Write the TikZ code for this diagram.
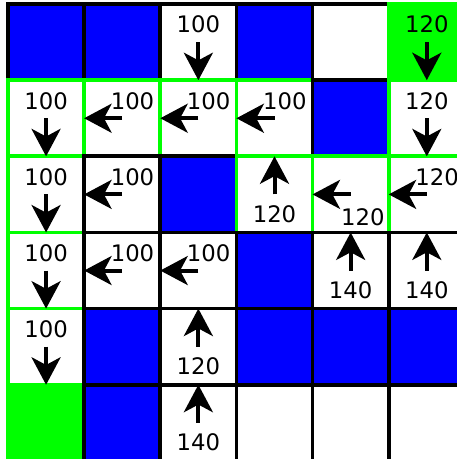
\documentclass[tikz,border=0pt]{standalone}
\usepackage{fontspec}
\setmainfont{DejaVu Sans}
\usetikzlibrary{arrows.meta}

\begin{document}
\begin{tikzpicture}[x=2cm,y=2cm,>={Stealth[length=7.2mm,width=7.6mm,inset=2mm]},
    cell/.style={rectangle,minimum size=2cm,inner sep=0pt,outer sep=0pt,line width=2.8pt},
    free/.style={cell,draw=black,fill=white},
    wall/.style={cell,draw=black,fill=blue},
    route/.style={cell,draw=green,fill=white},
    goal/.style={cell,draw=green,fill=green},
    cost/.style={inner sep=0pt,font=\fontsize{17}{20}\selectfont},
    move/.style={->,line width=3pt}]
  \useasboundingbox (-0.105,0.053) rectangle (5.895,-5.975);
  % cells, row by row from the top (later cells paint over shared edges)
  \foreach \r/\kinds in {0/{wall,wall,free,wall,free,goal},
                         1/{route,route,route,route,wall,route},
                         2/{route,free,wall,route,route,route},
                         3/{route,free,free,wall,free,free},
                         4/{route,wall,free,wall,wall,wall},
                         5/{goal,wall,free,free,free,free}}
    \foreach \k [count=\c from 0] in \kinds
      \node[\k] (c\r\c) at (\c+0.5,-\r-0.5) {};
  % moves down
  \foreach \n/\v in {02/100,05/120,10/100,15/120,20/100,30/100,40/100} {
    \node[cost] (t\n) at ([yshift=4.6mm]c\n.center) {\v};
    \draw[move] (c\n.center) -- (c\n.south);
  }
  % moves left
  \foreach \n/\v in {11/100,12/100,13/100,21/100,25/120,31/100,32/100} {
    \node[cost] (t\n) at ([shift={(0.135,0.23)}]c\n.center) {\v};
    \draw[move] (c\n.center) -- (c\n.west);
  }
  \node[cost] (t24) at ([shift={(0.16,-0.3)}]c24.center) {120};
  \draw[move] (c24.center) -- (c24.west);
  % moves up
  \foreach \n/\v in {23/120,34/140,35/140,42/120,52/140} {
    \node[cost] (t\n) at ([yshift=-5.2mm]c\n.center) {\v};
    \draw[move] (c\n.center) -- (c\n.north);
  }
\end{tikzpicture}
\end{document}
